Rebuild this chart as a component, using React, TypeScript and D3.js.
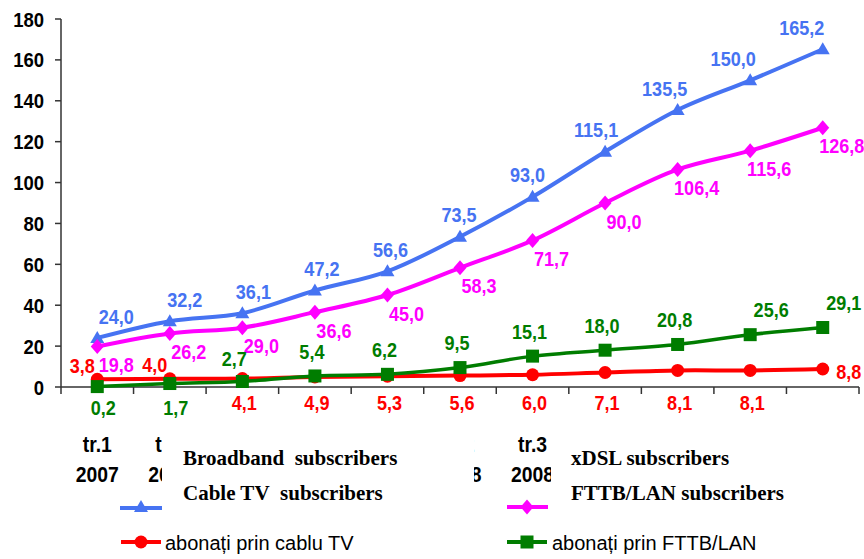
import React from 'react';
import * as d3 from 'd3';

// quarterly subscribers, thousands
const quarters = ['tr.1', 'tr.2', 'tr.3', 'tr.4', 'tr.1', 'tr.2', 'tr.3', 'tr.4', 'tr.1', 'tr.2', 'tr.3'];
const years = ['2007', '2007', '2007', '2007', '2008', '2008', '2008', '2008', '2009', '2009', '2009'];

const broadband = [24.0, 32.2, 36.1, 47.2, 56.6, 73.5, 93.0, 115.1, 135.5, 150.0, 165.2];
const xdsl = [19.8, 26.2, 29.0, 36.6, 45.0, 58.3, 71.7, 90.0, 106.4, 115.6, 126.8];
const cableTv = [3.8, 4.0, 4.1, 4.9, 5.3, 5.6, 6.0, 7.1, 8.1, 8.1, 8.8];
const fttb = [0.2, 1.7, 2.7, 5.4, 6.2, 9.5, 15.1, 18.0, 20.8, 25.6, 29.1];

const yTicks = [0, 20, 40, 60, 80, 100, 120, 140, 160, 180];

// the translated legend boxes cover most category labels; these stay (partly) visible
const visibleCategories = [0, 1, 5, 6];

const BLUE = '#4673f2';
const MAGENTA = '#ff00ff';
const RED = '#ff0000';
const GREEN = '#007d00';

const W = 864;
const H = 559;
const ARIAL = '"Liberation Sans", Arial, sans-serif';
const TIMES = '"Liberation Serif", "Times New Roman", serif';

const x = d3.scaleBand<number>().domain(d3.range(quarters.length)).range([61, 859]);
const cx = (i: number) => (x(i) as number) + x.bandwidth() / 2;
const y = d3.scaleLinear().domain([0, 180]).range([387, 19]);

const line = d3
  .line<number>()
  .x((_, i) => cx(i))
  .y(d => y(d))
  .curve(d3.curveCatmullRom.alpha(0.5));

const fmt = (v: number) => v.toFixed(1).replace('.', ',');

const triangle = 'M0,-7 L7,5 L-7,5 Z';
const diamond = 'M0,-7.5 L6.5,0 L0,7.5 L-6.5,0 Z';

function Marker({ kind, color, px, py }: { kind: string; color: string; px: number; py: number }) {
  if (kind === 'circle') return <circle cx={px} cy={py} r={6.5} fill={color} />;
  if (kind === 'square') return <rect x={px - 6.5} y={py - 6.5} width={13} height={13} fill={color} />;
  return <path d={kind === 'triangle' ? triangle : diamond} transform={`translate(${px},${py})`} fill={color} />;
}

function Label({ px, py, color, text }: { px: number; py: number; color: string; text: string }) {
  return (
    <text
      transform={`translate(${px},${py}) scale(0.86,1)`}
      textAnchor="middle"
      dy="0.36em"
      fontFamily={ARIAL}
      fontWeight="bold"
      fontSize={21}
      fill={color}
    >
      {text}
    </text>
  );
}

// label placement per series
const blueLabel = (i: number, v: number) => [cx(i) + 19 - 4 * i, y(v) - 22];
const magentaLabel = (i: number, v: number) => [cx(i) + 19, y(v) + 18];
const redLabel = (i: number, v: number) => {
  if (i < 2) return [cx(i) - 15, y(v) - 14];
  if (i === quarters.length - 1) return [cx(i) + 26, y(v) + 2];
  return [cx(i) + 2, y(0) + 15];
};
const greenLabel = (i: number, v: number) => {
  if (i < 2) return [cx(i) + 6, y(0) + 20];
  if (i >= 9) return [cx(i) + 21, y(v) - 25];
  if (i === 2) return [cx(i) - 8, y(v) - 23];
  return [cx(i) - 3, y(v) - 25];
};

const series = [
  { values: broadband, color: BLUE, kind: 'triangle', width: 4, place: blueLabel },
  { values: xdsl, color: MAGENTA, kind: 'diamond', width: 4, place: magentaLabel },
  { values: cableTv, color: RED, kind: 'circle', width: 4, place: redLabel },
  { values: fttb, color: GREEN, kind: 'square', width: 3.5, place: greenLabel },
];

export default function App() {
  const bounds = d3.range(quarters.length + 1).map(i => (i === quarters.length ? 859 : (x(i) as number)));
  return (
    <svg width={W} height={H} style={{ position: 'absolute', left: 0, top: 0, background: '#fff' }}>
      <defs>
        <clipPath id="catClip">
          <rect x={0} y={400} width={162} height={100} />
          <rect x={474} y={400} width={77} height={100} />
        </clipPath>
      </defs>

      {/* y axis */}
      <line x1={61} x2={61} y1={y(180)} y2={y(0)} stroke="#333" strokeWidth={1.5} />
      {yTicks.map(t => (
        <g key={t}>
          <line x1={55} x2={61} y1={y(t)} y2={y(t)} stroke="#333" strokeWidth={1.5} />
          <text
            transform={`translate(44,${y(t) + 7.5}) scale(0.88,1)`}
            textAnchor="end"
            fontFamily={ARIAL}
            fontWeight="bold"
            fontSize={21}
            fill="#000"
          >
            {t}
          </text>
        </g>
      ))}

      {/* x axis */}
      <line x1={61} x2={859} y1={y(0)} y2={y(0)} stroke="#333" strokeWidth={1.5} />
      {bounds.map((b, i) => (
        <line key={i} x1={b} x2={b} y1={y(0)} y2={y(0) + 7} stroke="#333" strokeWidth={1.5} />
      ))}
      <g clipPath="url(#catClip)" fontFamily={ARIAL} fontWeight="bold" fontSize={22} fill="#000">
        {visibleCategories.map(i => (
          <g key={i}>
            <text transform={`translate(${cx(i)},452) scale(0.88,1)`} textAnchor="middle">
              {quarters[i]}
            </text>
            <text transform={`translate(${cx(i)},482) scale(0.88,1)`} textAnchor="middle">
              {years[i]}
            </text>
          </g>
        ))}
      </g>

      {/* lines and markers */}
      {series.map(s => (
        <g key={s.color}>
          <path d={line(s.values) || ''} fill="none" stroke={s.color} strokeWidth={s.width} />
          {s.values.map((v, i) => (
            <Marker key={i} kind={s.kind} color={s.color} px={cx(i)} py={y(v)} />
          ))}
        </g>
      ))}

      {/* data labels */}
      {series.map(s =>
        s.values.map((v, i) => {
          const [lx, ly] = s.place(i, v);
          return <Label key={s.color + i} px={lx} py={ly} color={s.color} text={fmt(v)} />;
        })
      )}

      {/* translated legend text */}
      <g fontFamily={TIMES} fontWeight="bold" fontSize={21} fill="#000">
        <text x={183} y={465}>{'Broadband\u00a0 subscribers'}</text>
        <text x={183} y={500}>{'Cable TV\u00a0 subscribers'}</text>
        <text x={571} y={465}>xDSL subscribers</text>
        <text x={571} y={500}>FTTB/LAN subscribers</text>
      </g>

      {/* legend */}
      <g>
        <line x1={120} x2={162} y1={508} y2={508} stroke={BLUE} strokeWidth={4} />
        <Marker kind="triangle" color={BLUE} px={141} py={507} />
        <line x1={507} x2={548} y1={507} y2={507} stroke={MAGENTA} strokeWidth={4} />
        <Marker kind="diamond" color={MAGENTA} px={527} py={507} />
        <line x1={121} x2={161} y1={542} y2={542} stroke={RED} strokeWidth={4} />
        <Marker kind="circle" color={RED} px={141} py={542} />
        <line x1={507} x2={547} y1={542} y2={542} stroke={GREEN} strokeWidth={4} />
        <Marker kind="square" color={GREEN} px={527} py={542} />
        <g fontFamily={ARIAL} fontSize={20} fill="#000">
          <text x={165} y={550}>abonați prin cablu TV</text>
          <text x={552} y={550}>abonați prin FTTB/LAN</text>
        </g>
      </g>
    </svg>
  );
}
